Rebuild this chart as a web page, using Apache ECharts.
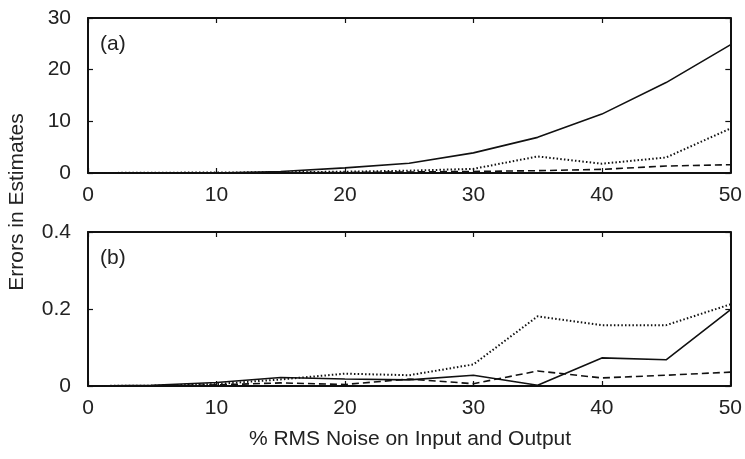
<!DOCTYPE html>
<html>
<head>
<meta charset="utf-8">
<script src="https://cdn.jsdelivr.net/npm/echarts@6/dist/echarts.min.js"></script>
<style>
  html, body { margin: 0; padding: 0; background: #fff; }
  #chart { width: 745px; height: 459px; }
</style>
</head>
<body>
<div id="chart"></div>
<script>
// Noise levels (% RMS on input and output)
const noise = [0, 5, 10, 15, 20, 25, 30, 35, 40, 45, 50];

// Panel (a) errors
const aSolid  = [0, 0, 0, 0.3, 1.0, 1.9, 3.9, 6.9, 11.4, 17.5, 24.8];
const aDotted = [0, 0.05, 0.1, 0.15, 0.25, 0.45, 0.8, 3.2, 1.8, 3.0, 8.6];
const aDashed = [0, 0, 0, 0.05, 0.1, 0.2, 0.3, 0.45, 0.7, 1.35, 1.6];

// Panel (b) errors
const bSolid  = [0, 0.002, 0.009, 0.022, 0.018, 0.016, 0.028, 0.002, 0.073, 0.068, 0.198];
const bDotted = [0, 0.001, 0.005, 0.017, 0.032, 0.028, 0.056, 0.181, 0.158, 0.158, 0.212];
const bDashed = [0, 0, 0.003, 0.008, 0.004, 0.018, 0.006, 0.039, 0.021, 0.028, 0.036];

const xTicks = { min: 0, max: 50, interval: 10 };
const aTicks = { min: 0, max: 30, interval: 10 };
const bTicks = { min: 0, max: 0.4, interval: 0.2 };

const FONT = 'Liberation Sans, Arial, sans-serif';
const FS = 21;
const INK = '#111';
const TXT = '#222';

function pairs(ys) { return noise.map((x, i) => [x, ys[i]]); }

const frameLine = { show: true, onZero: false, lineStyle: { color: INK, width: 2 } };
const innerTick = { show: true, inside: true, length: 5, lineStyle: { color: INK, width: 1.2 } };
const labelStyle = { color: TXT, fontFamily: FONT, fontSize: FS };

function xAxes(grid) {
  return [
    { type: 'value', gridIndex: grid, position: 'bottom', ...xTicks,
      axisLine: frameLine, axisTick: innerTick, splitLine: { show: false },
      axisLabel: { ...labelStyle, margin: 12 } },
    { type: 'value', gridIndex: grid, position: 'top', ...xTicks,
      axisLine: frameLine, axisTick: innerTick, splitLine: { show: false },
      axisLabel: { show: false } }
  ];
}
function yAxes(grid, ticks) {
  return [
    { type: 'value', gridIndex: grid, position: 'left', ...ticks,
      axisLine: frameLine, axisTick: innerTick, splitLine: { show: false },
      axisLabel: { ...labelStyle, margin: 17 } },
    { type: 'value', gridIndex: grid, position: 'right', ...ticks,
      axisLine: frameLine, axisTick: innerTick, splitLine: { show: false },
      axisLabel: { show: false } }
  ];
}

const solid  = { color: INK, width: 1.6, type: 'solid' };
const dotted = { color: INK, width: 2, type: [1.5, 2.2] };
const dashed = { color: INK, width: 1.6, type: [7, 4] };

function line(data, style, xi, yi) {
  return { type: 'line', data: pairs(data), xAxisIndex: xi, yAxisIndex: yi,
           showSymbol: false, lineStyle: style, animation: false, silent: true, z: 1 };
}

const chart = echarts.init(document.getElementById('chart'), null, { renderer: 'canvas' });
chart.setOption({
  animation: false,
  backgroundColor: '#fff',
  grid: [
    { left: 88, right: 13, top: 18, height: 155 },
    { left: 88, right: 13, top: 232, height: 154 }
  ],
  xAxis: [...xAxes(0), ...xAxes(1)],
  yAxis: [...yAxes(0, aTicks), ...yAxes(1, bTicks)],
  series: [
    line(aSolid, solid, 0, 0),
    line(aDotted, dotted, 0, 0),
    line(aDashed, dashed, 0, 0),
    line(bSolid, solid, 2, 2),
    line(bDotted, dotted, 2, 2),
    line(bDashed, dashed, 2, 2)
  ],
  graphic: [
    { type: 'text', x: 100, y: 44,
      style: { text: '(a)', fill: TXT, font: FS + 'px ' + FONT, verticalAlign: 'middle' } },
    { type: 'text', x: 100, y: 258,
      style: { text: '(b)', fill: TXT, font: FS + 'px ' + FONT, verticalAlign: 'middle' } },
    { type: 'text', x: 410, y: 439,
      style: { text: '% RMS Noise on Input and Output', fill: TXT, font: FS + 'px ' + FONT,
               align: 'center', verticalAlign: 'middle' } },
    { type: 'text', x: 17, y: 202, rotation: Math.PI / 2,
      style: { text: 'Errors in Estimates', fill: TXT, font: FS + 'px ' + FONT,
               align: 'center', verticalAlign: 'middle' } }
  ]
});
</script>
</body>
</html>
